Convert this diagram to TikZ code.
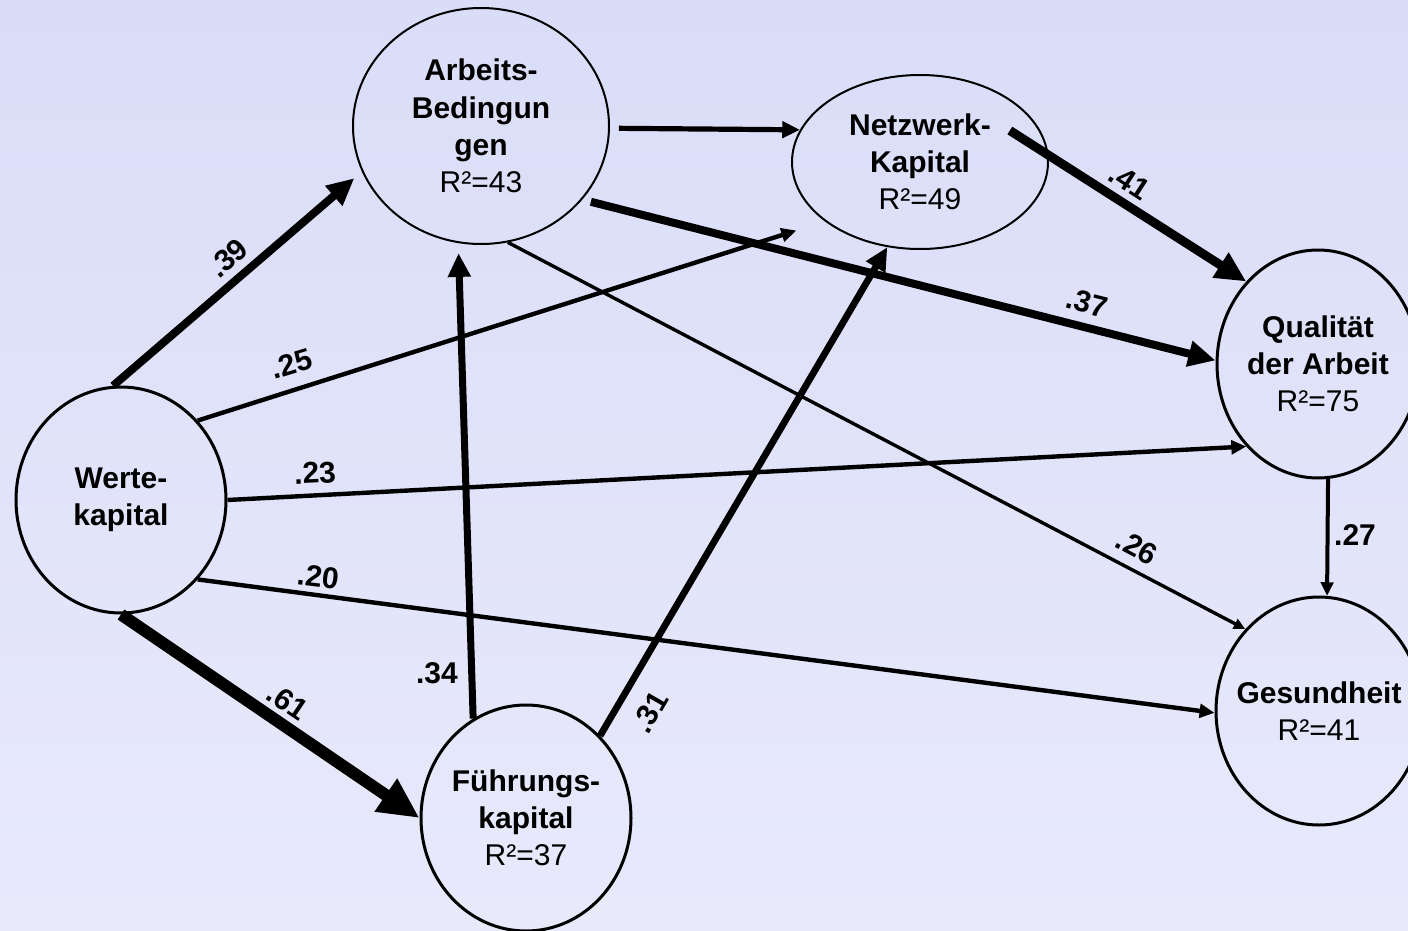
\documentclass[tikz,border=0pt]{standalone}
\usepackage{fontspec}
\setmainfont{Liberation Sans}
\usepackage{tikz}
\usetikzlibrary{arrows.meta,shapes.geometric}
\definecolor{bgtop}{HTML}{DADDF8}
\definecolor{bgbot}{HTML}{E8E9FB}

\begin{document}
\begin{tikzpicture}[x=0.5pt, y=-0.5pt,
  latent/.style={ellipse, draw=black, line width=1.5pt, inner sep=-12pt, align=center,
    font=\fontsize{15}{18.6}\selectfont},
  arr/.style={-{Triangle[length=0pt 3.4, width=0pt 3.1]}},
  coef/.style={font=\fontsize{15}{18}\selectfont\bfseries, inner sep=0pt}]
  \useasboundingbox (0,0) rectangle (1408,931);
  \clip (0,0) rectangle (1408,931);
  \shade[top color=bgtop, bottom color=bgbot] (0,0) rectangle (1408,931);

  % latent variables
  \node[latent, minimum width=105pt, minimum height=113pt] (W) at (121,500)
    {\textbf{Werte-}\\\textbf{kapital}};
  \node[latent, line width=1pt, minimum width=128pt, minimum height=118pt] (A) at (481,126)
    {\textbf{Arbeits-}\\\textbf{Bedingun}\\\textbf{gen}\\R²=43};
  \node[latent, line width=1pt, minimum width=128pt, minimum height=87pt] (N) at (920,162)
    {\textbf{Netzwerk-}\\\textbf{Kapital}\\R²=49};
  \node[latent, minimum width=101pt, minimum height=114pt] (Q) at (1318,364)
    {\textbf{Qualität}\\\textbf{der Arbeit}\\R²=75};
  \node[latent, minimum width=103pt, minimum height=114pt] (G) at (1319,711)
    {\textbf{Gesundheit}\\R²=41};
  \node[latent, minimum width=105pt, minimum height=113pt] (F) at (526,818)
    {\textbf{Führungs-}\\\textbf{kapital}\\R²=37};

  % paths
  \draw[arr, line width=4pt, shorten >=5pt] (W.94) -- (A.201);
  \draw[arr, line width=2.2pt, shorten >=15pt] (W.46) -- (N.212);
  \draw[arr, line width=2.2pt] (W.0) -- (Q.229);
  \draw[arr, line width=2.2pt] (W.314) -- (G.181);
  \draw[arr, line width=6pt] (W.270) -- (F.180);
  \draw[arr, line width=3.5pt, shorten >=5pt] (F.118) -- (A.259);
  \draw[arr, line width=3.4pt] (F.48) -- (N.249);
  \draw[arr, line width=2.6pt, shorten <=4.5pt] (A.359) -- (N.165);
  \draw[arr, line width=4pt, shorten <=4.4pt] (A.324) -- (Q.178);
  \draw[arr, line width=1.7pt] (A.283) -- (G.132);
  \draw[arr, line width=4.5pt, shorten <=-23pt] (N.3) -- (Q.131);
  \draw[arr, line width=2pt] (Q.275) -- (G.86);

  % coefficients
  \node[coef, rotate=41] (c39) at (228,258) {.39};
  \node[coef, rotate=17] (c25) at (291,364) {.25};
  \node[coef, rotate=3] (c23) at (315,473) {.23};
  \node[coef, rotate=-7] (c20) at (318,577) {.20};
  \node[coef, rotate=-34] (c61) at (288,702) {.61};
  \node[coef] (c34) at (437,673) {.34};
  \node[coef, rotate=60] (c31) at (650,712) {.31};
  \node[coef, rotate=-14] (c37) at (1087,303) {.37};
  \node[coef, rotate=-33] (c41) at (1130,182) {.41};
  \node[coef, rotate=-28] (c26) at (1137,547) {.26};
  \node[coef] (c27) at (1355,535) {.27};
\end{tikzpicture}
\end{document}
